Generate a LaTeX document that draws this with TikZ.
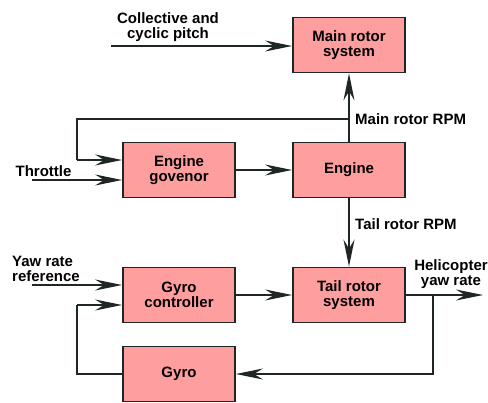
\documentclass[tikz,border=0pt]{standalone}
\usepackage{fontspec}
\setmainfont{Liberation Sans}
\usetikzlibrary{arrows.meta}
\definecolor{boxfill}{RGB}{255,158,158}
\definecolor{ink}{RGB}{30,38,38}
\begin{document}
\begin{tikzpicture}[x=1pt,y=-1pt,
  every node/.style={font=\fontsize{15}{14.5}\selectfont\bfseries, text=black},
  blk/.style={draw=ink, fill=boxfill, line width=1.8pt, minimum width=112pt, minimum height=55pt, align=center, inner sep=0pt},
  lbl/.style={align=center, inner sep=0pt},
  conn/.style={draw=ink, line width=1.7pt},
  arr/.style={conn, -{Stealth[length=27pt,width=11pt,inset=9pt]}}]
\useasboundingbox (0,0) rectangle (488,403);
% blocks
\node[blk] (mr) at (349,45) {Main rotor\\system};
\node[blk] (eng) at (349,170) {Engine};
\node[blk] (gov) at (179,170) {Engine\\govenor};
\node[blk] (gc) at (179,295) {Gyro\\controller};
\node[blk] (tr) at (349,295) {Tail rotor\\system};
\node[blk] (gyro) at (179,374) {Gyro};
% labels
\node[lbl] (tcoll) at (168,27) {Collective and\\cyclic pitch};
\node[lbl] (tthr) at (43.5,171) {Throttle};
\node[lbl, anchor=west] (tmrpm) at (355,119) {Main rotor RPM};
\node[lbl, anchor=west] (ttrpm) at (355,224) {Tail rotor RPM};
\node[lbl, align=left, anchor=west] (tyaw) at (12,269) {Yaw rate\\reference};
\node[lbl] (thel) at (451,274) {Helicopter\\yaw rate};
% coordinates
\coordinate (cin) at (111,46);
\coordinate (thr) at (32,180);
\coordinate (fb) at (349,119);
\coordinate (fbL) at (77,119);
\coordinate (fbD) at (77,160);
\coordinate (yaw) at (32,285);
\coordinate (gyL) at (77,374);
\coordinate (gyU) at (77,305);
\coordinate (out) at (483,295);
\coordinate (br) at (433,295);
% connectors
\draw[arr] (cin) -- (cin -| mr.west);
\draw[arr] (gov) -- (eng);
\draw[arr] (thr) -- (thr -| gov.west);
\draw[arr] (eng) -- (mr);
\draw[conn] (fb) -- (fbL) -- (fbD);
\draw[arr] (fbD) -- (fbD -| gov.west);
\draw[arr] (eng) -- (tr);
\draw[arr] (yaw) -- (yaw -| gc.west);
\draw[conn] (gyro.west) -- (gyL) -- (gyU);
\draw[arr] (gyU) -- (gyU -| gc.west);
\draw[arr] (gc) -- (tr);
\draw[arr] (tr.east) -- (out);
\draw[arr] (br) |- (gyro.east);
\end{tikzpicture}
\end{document}
